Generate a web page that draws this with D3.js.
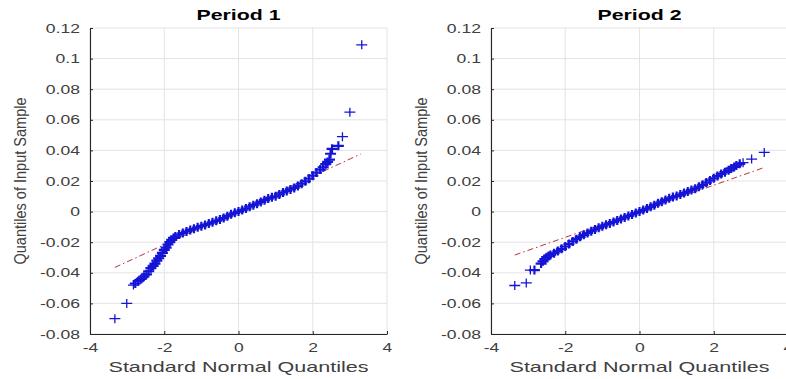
<!DOCTYPE html>
<html>
<head>
<meta charset="utf-8">
<script src="https://cdn.jsdelivr.net/npm/d3@7"></script>
<style>
  body { margin: 0; background: #fff; }
  svg text { font-family: "Liberation Sans", Arial, Helvetica, sans-serif; }
</style>
</head>
<body>
<svg id="chart" width="786" height="379"></svg>
<script>
// tick values and labels
var xTicks = [-4, -2, 0, 2, 4];
var yTicks = [-0.08, -0.06, -0.04, -0.02, 0, 0.02, 0.04, 0.06, 0.08, 0.1, 0.12];
var titles = ["Period 1", "Period 2"];
var xLabel = "Standard Normal Quantiles";
var yLabel = "Quantiles of Input Sample";

// period 1 : standard normal quantile vs sample quantile
var p1X = [-3.33, -3.01, -2.83, -2.78, -2.70, -2.62, -2.55, -2.48, -2.42, -2.36, -2.30, -2.25,
  -2.20, -2.15, -2.10, -2.05, -2.00, -1.95, -1.90, -1.85, -1.80, -1.75, -1.70, -1.60, -1.50,
  -1.40, -1.30, -1.20, -1.10, -1.00, -0.90, -0.80, -0.70, -0.60, -0.50, -0.40, -0.30, -0.20,
  -0.10, 0.00, 0.10, 0.20, 0.30, 0.40, 0.50, 0.60, 0.70, 0.80, 0.90, 1.00, 1.10, 1.20, 1.30,
  1.40, 1.50, 1.60, 1.70, 1.80, 1.90, 2.00, 2.10, 2.20, 2.28, 2.35, 2.40, 2.45, 2.48, 2.52,
  2.69, 2.80, 3.00, 3.32];
var p1Y = [-0.070, -0.060, -0.048, -0.047, -0.0455, -0.044, -0.0425, -0.041, -0.039, -0.037,
  -0.0355, -0.034, -0.032, -0.0305, -0.029, -0.027, -0.025, -0.0235, -0.0215, -0.020, -0.0185,
  -0.0172, -0.0163, -0.0150, -0.0140, -0.0130, -0.0120, -0.0112, -0.0103, -0.0095, -0.0087,
  -0.0078, -0.0070, -0.0060, -0.0052, -0.0042, -0.0030, -0.0018, -0.0008, 0.0000, 0.0010,
  0.0020, 0.0032, 0.0042, 0.0052, 0.0063, 0.0075, 0.0085, 0.0093, 0.0100, 0.0112, 0.0125,
  0.0135, 0.0145, 0.0155, 0.0168, 0.0182, 0.0198, 0.0215, 0.0235, 0.0255, 0.0275, 0.029,
  0.031, 0.0325, 0.034, 0.0378, 0.041, 0.043, 0.049, 0.065, 0.109];
var p1LineX = [-3.33, 3.29];
var p1LineY = [-0.0365, 0.0376];

// period 2
var p2X = [-3.36, -3.05, -2.94, -2.83, -2.65, -2.60, -2.55, -2.50, -2.45, -2.40, -2.30, -2.20,
  -2.10, -2.00, -1.90, -1.80, -1.70, -1.60, -1.50, -1.40, -1.30, -1.20, -1.10, -1.00, -0.90,
  -0.80, -0.70, -0.60, -0.50, -0.40, -0.30, -0.20, -0.10, 0.00, 0.10, 0.20, 0.30, 0.40, 0.50,
  0.60, 0.70, 0.80, 0.90, 1.00, 1.10, 1.20, 1.30, 1.40, 1.50, 1.60, 1.70, 1.80, 1.90, 2.00,
  2.10, 2.20, 2.30, 2.40, 2.47, 2.55, 2.61, 2.70, 2.79, 3.02, 3.36];
var p2Y = [-0.0483, -0.0466, -0.0382, -0.0382, -0.034, -0.0325, -0.031, -0.0298, -0.0290,
  -0.0283, -0.0272, -0.0258, -0.0243, -0.0228, -0.0212, -0.0195, -0.0180, -0.0165, -0.0152,
  -0.0140, -0.0128, -0.0117, -0.0106, -0.0096, -0.0086, -0.0077, -0.0068, -0.0058, -0.0048,
  -0.0038, -0.0028, -0.0019, -0.0009, 0.0000, 0.0010, 0.0020, 0.0031, 0.0042, 0.0054, 0.0065,
  0.0076, 0.0087, 0.0095, 0.0102, 0.0111, 0.0121, 0.0131, 0.0141, 0.0150, 0.0162, 0.0175,
  0.0190, 0.0204, 0.0218, 0.0232, 0.0246, 0.0258, 0.0270, 0.0282, 0.0292, 0.0302, 0.0312,
  0.0320, 0.0343, 0.0387];
var p2LineX = [-3.36, 3.32];
var p2LineY = [-0.0284, 0.0285];

var svg = d3.select("#chart");
var stretch = 1.35;   // the source picture is widened, text looks wide

function fmt(d) {
  if (d === 0) return "0";
  return String(+d.toFixed(2));
}

function drawPanel(left, right, yLabelX, title, xs, ys, lineX, lineY) {
  var top = 28, bottom = 334;
  var x = d3.scaleLinear().domain([-4, 4]).range([left, right]);
  var y = d3.scaleLinear().domain([-0.08, 0.12]).range([bottom, top]);
  var g = svg.append("g");

  // grid
  g.selectAll(".vgrid").data(xTicks).enter().append("line")
    .attr("x1", function (d) { return x(d); })
    .attr("x2", function (d) { return x(d); })
    .attr("y1", top).attr("y2", bottom)
    .style("stroke", "#e3e3e3").style("stroke-width", 1);
  g.selectAll(".hgrid").data(yTicks).enter().append("line")
    .attr("x1", left).attr("x2", right)
    .attr("y1", function (d) { return y(d); })
    .attr("y2", function (d) { return y(d); })
    .style("stroke", "#e3e3e3").style("stroke-width", 1);

  // reference line
  g.append("line")
    .attr("x1", x(lineX[0])).attr("y1", y(lineY[0]))
    .attr("x2", x(lineX[1])).attr("y2", y(lineY[1]))
    .style("stroke", "#b8323a").style("stroke-width", 1)
    .style("stroke-dasharray", "6,3,1.5,3");

  // markers: the tails stay thin, the dense middle reads as a thick band
  var pts = xs.map(function (v, i) { return [v, ys[i]]; });
  g.selectAll(".pt").data(pts).enter().append("path")
    .attr("transform", function (d) { return "translate(" + x(d[0]) + "," + y(d[1]) + ")"; })
    .attr("d", "M-5.5,0H5.5M0,-4.5V4.5")
    .style("stroke", "#1414d6")
    .style("stroke-width", function (d, i) { return (i < 3 || i > xs.length - 4) ? 1.3 : 2.2; })
    .style("fill", "none");

  // axes
  var ax = g.append("g").attr("transform", "translate(" + left + ",0)")
    .call(d3.axisLeft(y).tickValues(yTicks).tickFormat(fmt).tickSizeInner(-3).tickSizeOuter(0));
  var bx = g.append("g").attr("transform", "translate(0," + bottom + ")")
    .call(d3.axisBottom(x).tickValues(xTicks).tickFormat(fmt).tickSizeInner(-3).tickSizeOuter(0));

  [ax, bx].forEach(function (a) {
    a.select(".domain").style("stroke", "#262626").style("stroke-width", 1.1);
    a.selectAll(".tick line").style("stroke", "#262626");
    a.selectAll(".tick text").style("font-size", "13px").style("fill", "#404040");
  });
  ax.selectAll(".tick text").attr("x", 0)
    .attr("transform", "translate(-10,0) scale(" + stretch + ",1)");
  bx.selectAll(".tick text").attr("y", 0)
    .attr("transform", "translate(0,9) scale(" + stretch + ",1)");

  // title and labels
  g.append("text")
    .attr("x", (left + right) / 2).attr("y", 20)
    .attr("text-anchor", "middle")
    .attr("textLength", 84).attr("lengthAdjust", "spacingAndGlyphs")
    .style("font-size", "14px").style("font-weight", "bold").style("fill", "#000")
    .text(title);

  g.append("text")
    .attr("x", (left + right) / 2).attr("y", 372)
    .attr("text-anchor", "middle")
    .attr("textLength", 260).attr("lengthAdjust", "spacingAndGlyphs")
    .style("font-size", "15px").style("fill", "#404040")
    .text(xLabel);

  g.append("text")
    .attr("transform", "translate(" + yLabelX + ",181) rotate(-90)")
    .attr("text-anchor", "middle")
    .attr("textLength", 167).attr("lengthAdjust", "spacingAndGlyphs")
    .style("font-size", "16px").style("fill", "#404040")
    .text(yLabel);
}

drawPanel(90, 387, 26, titles[0], p1X, p1Y, p1LineX, p1LineY);
drawPanel(491, 788, 427, titles[1], p2X, p2Y, p2LineX, p2LineY);
</script>
</body>
</html>
